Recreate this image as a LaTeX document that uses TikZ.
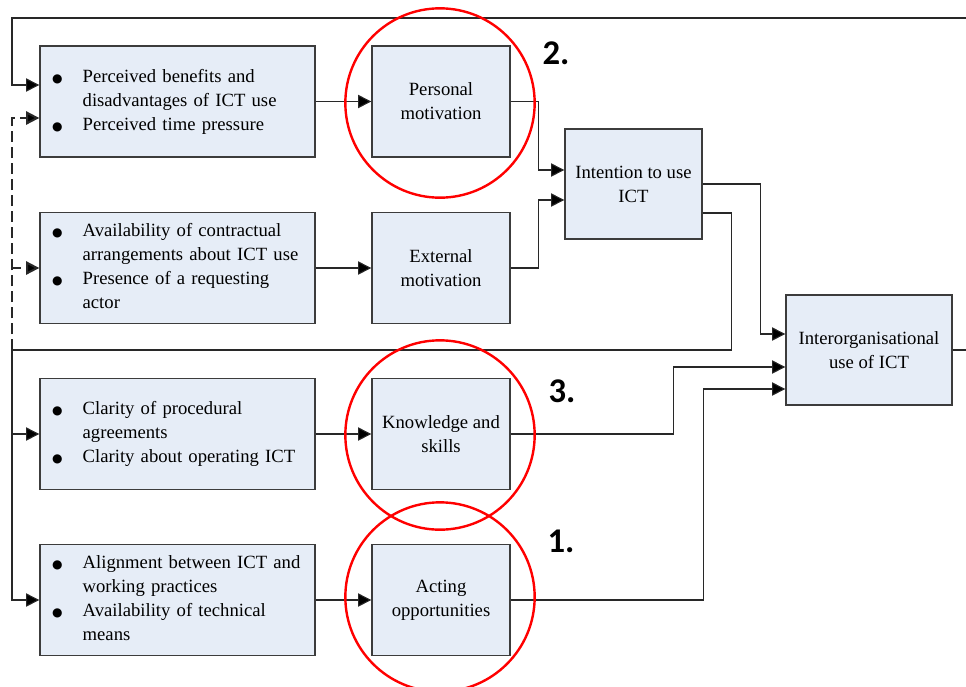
\documentclass[tikz,border=0pt]{standalone}
\usepackage{fontspec}
\setmainfont{Liberation Serif}
\newfontfamily\numfont{Carlito}
\newfontfamily\symfont{DejaVu Sans}
\usepackage{array}
\usepackage{tikz}
\usetikzlibrary{arrows.meta,calc,positioning}
\definecolor{boxfill}{RGB}{230,237,247}
\definecolor{boxline}{RGB}{60,60,60}
\definecolor{linegray}{RGB}{40,40,40}
\newcommand{\dotmark}{{\symfont\fontsize{9}{9}\selectfont ●}}
\newcommand{\twoitems}[2]{\begin{tabular}{@{}p{23pt}@{}p{165pt}@{}}
    \dotmark & #1\\
    \dotmark & #2
    \end{tabular}}

\begin{document}
\begin{tikzpicture}[x=0.75pt,y=-0.75pt,
            every node/.style={rectangle,draw=boxline,fill=boxfill,line width=1pt,inner sep=0pt,
                font=\fontsize{14}{18}\selectfont},
            factor/.style={text width=188.25pt,inner xsep=9pt,minimum height=83.25pt,align=left},
            driver/.style={minimum width=103.5pt,minimum height=83.25pt,align=center},
            conn/.style={line width=0.8pt,draw=linegray,-{Triangle[length=10pt,width=10pt,fill=black]}},
            feedback/.style={conn,line width=1.5pt,dash pattern=on 8pt off 4pt},
            ring/.style={red,line width=1.8pt},
            numlabel/.style={draw=none,fill=none,font=\numfont\bfseries\fontsize{26}{30}\selectfont}
        ]
            \useasboundingbox (0,0) rectangle (966,686);
            \node[factor] (benefits) at (177.5,101.5) {\twoitems{Perceived benefits and\newline disadvantages of ICT use}{Perceived time pressure}};
            \node[factor] (contract) at (177.5,268) {\twoitems{Availability of contractual\newline arrangements about ICT use}{Presence of a requesting\newline actor}};
            \node[factor] (procedure) at (177.5,434) {\twoitems{Clarity of procedural\newline agreements}{Clarity about operating ICT}};
            \node[factor] (alignment) at (177.5,600) {\twoitems{Alignment between ICT and\newline working practices}{Availability of technical\newline means}};
            \node[driver] (personal) at (441,101.5) {Personal\\motivation};
            \node[driver] (external) at (441,268) {External\\motivation};
            \node[driver] (knowledge) at (441,434) {Knowledge and\\skills};
            \node[driver] (acting) at (441,600) {Acting\\opportunities};
            \node[driver,minimum width=102.75pt,minimum height=82.5pt] (intention) at (633.5,184) {Intention to use\\ICT};
            \node[driver,minimum width=124.5pt,minimum height=82.5pt] (interorg) at (869,350) {Interorganisational\\use of ICT};
            \coordinate (rail) at (12,18);
            \coordinate (split) at (12,350);
            \draw[conn] (benefits) -- (personal);
            \draw[conn] (contract) -- (external);
            \draw[conn] (procedure) -- (knowledge);
            \draw[conn] (alignment) -- (acting);
            \draw[conn] (personal.east) -- ++(28,0) |- ($(intention.west)+(0,-14)$);
            \draw[conn] (external.east) -- ++(28,0) |- ($(intention.west)+(0,16)$);
            \draw[conn] (intention.east) -- ++(58,0) |- ($(interorg.west)+(0,-16)$);
            \draw[conn] (knowledge.east) -- ++(163,0) |- ($(interorg.west)+(0,17)$);
            \draw[conn] (acting.east) -- ++(193,0) |- ($(interorg.west)+(0,39)$);
            \draw[conn] (interorg.east) -- ++(40,0) |- (rail) |- ($(benefits.west)+(0,-16.5)$);
            \draw[conn] ($(intention.east)+(0,29)$) -- ++(29,0) |- (split) |- (procedure.west);
            \draw[conn] (split) |- (alignment.west);
            \draw[feedback] (split) |- ($(benefits.west)+(0,16.5)$);
            \draw[feedback] (split) |- (contract.west);
            \draw[ring] (440,103) circle [radius=71pt];
            \draw[ring] (440,435) circle [radius=71pt];
            \draw[ring] (440,597) circle [radius=71pt];
            \node[numlabel] (two) at (556,53) {2.};
            \node[numlabel] (three) at (562,391) {3.};
            \node[numlabel] (one) at (561,541) {1.};
        \end{tikzpicture}
\end{document}
